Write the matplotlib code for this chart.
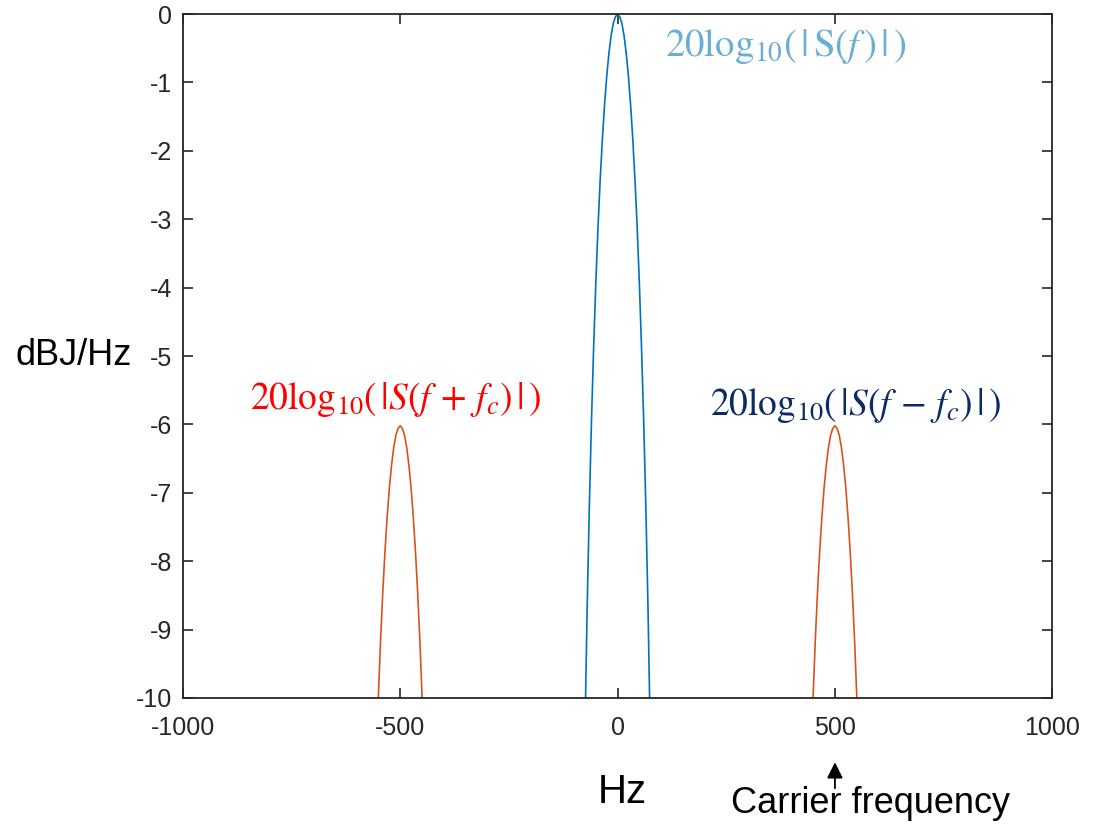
import matplotlib
matplotlib.use("Agg")
import matplotlib.pyplot as plt

# baseband spectrum main lobe (dB)
BASE_F = [-76, -70, -65, -60, -55, -50, -45, -40, -35, -30, -25, -20, -15, -10, -5, 0,
          5, 10, 15, 20, 25, 30, 35, 40, 45, 50, 55, 60, 65, 70, 76]
BASE_DB = [-10.85, -8.69, -7.20, -5.94, -4.86, -3.92, -3.11, -2.42, -1.83, -1.33, -0.91, -0.58, -0.32, -0.14, -0.04, 0.0,
           -0.04, -0.14, -0.32, -0.58, -0.91, -1.33, -1.83, -2.42, -3.11, -3.92, -4.86, -5.94, -7.20, -8.69, -10.85]

# shifted copies around the carrier
FC = 500
SHIFT_OFF = [-54, -50, -45, -40, -35, -30, -25, -20, -15, -10, -5, 0,
             5, 10, 15, 20, 25, 30, 35, 40, 45, 50, 54]
SHIFT_DB = [-10.68, -9.94, -9.13, -8.44, -7.85, -7.35, -6.93, -6.60, -6.34, -6.16, -6.06, -6.02,
            -6.06, -6.16, -6.34, -6.60, -6.93, -7.35, -7.85, -8.44, -9.13, -9.94, -10.68]

X_TICKS = [-1000, -500, 0, 500, 1000]
Y_TICKS = list(range(-10, 1))

plt.rcParams["font.family"] = ["Liberation Sans", "DejaVu Sans"]
plt.rcParams["mathtext.fontset"] = "stix"
plt.rcParams["axes.unicode_minus"] = False

fig = plt.figure(figsize=(10.95, 8.26), dpi=100)
ax = fig.add_axes([0.167, 0.155, 0.794, 0.828])

ax.plot(BASE_F, BASE_DB, color="#0072BD", lw=1.2)
ax.plot([FC + d for d in SHIFT_OFF], SHIFT_DB, color="#D95319", lw=1.2)
ax.plot([-FC + d for d in SHIFT_OFF], SHIFT_DB, color="#D95319", lw=1.2)

ax.set_xlim(-1000, 1000)
ax.set_ylim(-10, 0)
ax.set_xticks(X_TICKS)
ax.set_yticks(Y_TICKS)
ax.tick_params(direction="in", length=7, width=1.2, top=True, right=True,
               labelsize=18, colors="#262626")
ax.tick_params(axis="x", pad=13)
ax.tick_params(axis="y", pad=8)
for sp in ax.spines.values():
    sp.set_linewidth(1.3)
    sp.set_color("#262626")

fig.text(0.014, 0.57, "dBJ/Hz", fontsize=26, ha="left", va="center")
fig.text(0.568, 0.041, "Hz", fontsize=29, ha="center", va="center")
fig.text(0.795, 0.027, "Carrier frequency", fontsize=26, ha="center", va="center")
ax.annotate("", xy=(FC, -10.9), xytext=(FC, -11.36), xycoords="data",
            annotation_clip=False,
            arrowprops=dict(arrowstyle="-|>", color="black", lw=1.3, mutation_scale=24))

ax.text(0.555, 0.953, r"$20\mathrm{log}_{10}(\,|\,\mathrm{S}(f\,)\,|\,)$", transform=ax.transAxes,
        fontsize=28, color="#6AAED6", ha="left", va="center")
ax.text(0.077, 0.437, r"$20\mathrm{log}_{10}(\,|S(f\,+\,f_c)\,|\,)$", transform=ax.transAxes,
        fontsize=27, color="#FF0000", ha="left", va="center")
ax.text(0.606, 0.427, r"$20\mathrm{log}_{10}(\,|S(f\,-\,f_c)\,|\,)$", transform=ax.transAxes,
        fontsize=27, color="#0C2A66", ha="left", va="center")

fig.savefig("out.png", dpi=100)
